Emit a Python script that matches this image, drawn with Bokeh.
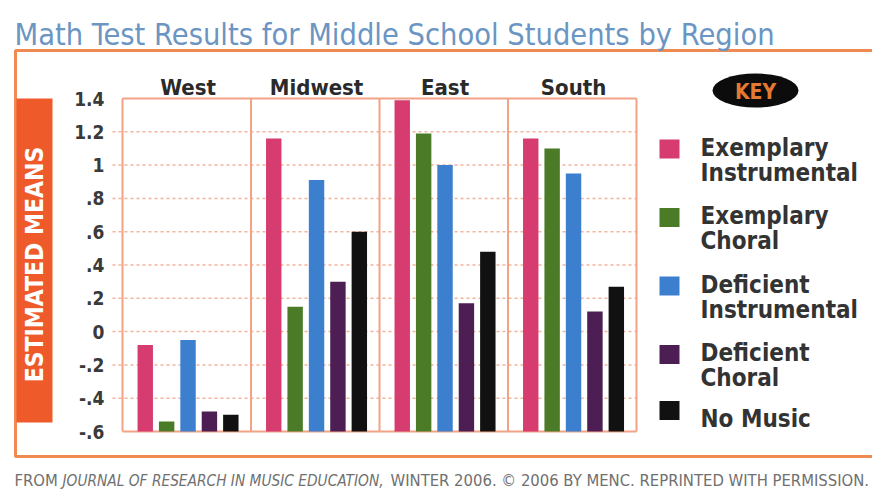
from bokeh.plotting import figure
from bokeh.models import Range1d
from bokeh.core.properties import value
from bokeh.embed import file_html
from bokeh.resources import INLINE

# ---------------- data ----------------
regions = ["West", "Midwest", "East", "South"]
series_names = ["Exemplary Instrumental", "Exemplary Choral",
                "Deficient Instrumental", "Deficient Choral", "No Music"]
exemplary_instrumental = [-0.08, 1.16, 1.39, 1.16]
exemplary_choral = [-0.54, 0.15, 1.19, 1.10]
deficient_instrumental = [-0.05, 0.91, 1.00, 0.95]
deficient_choral = [-0.48, 0.30, 0.17, 0.12]
no_music = [-0.50, 0.60, 0.48, 0.27]
y_ticks = [-0.6, -0.4, -0.2, 0.0, 0.2, 0.4, 0.6, 0.8, 1.0, 1.2, 1.4]
y_tick_labels = ["-.6", "-.4", "-.2", "0", ".2", ".4", ".6", ".8", "1", "1.2", "1.4"]
title_text = "Math Test Results for Middle School Students by Region"
y_title = "ESTIMATED MEANS"
key_text = "KEY"
footer_pieces = ["FROM", "JOURNAL OF RESEARCH IN MUSIC EDUCATION,",
                 "WINTER 2006.  \u00a9 2006 BY MENC.  REPRINTED WITH PERMISSION."]

series_values = [exemplary_instrumental, exemplary_choral,
                 deficient_instrumental, deficient_choral, no_music]
colors = ["#d63c6f", "#4b7b27", "#3c7fcf", "#4c1e53", "#111111"]

# ---------------- geometry helpers (page pixels -> data) ----------------
W, H = 872, 489
PANEL_LEFT = 122.0     # page x of left edge of first panel
PANEL_W = 128.5        # px per panel
Y_TOP_PX = 98.0        # page y of value 1.4
PX_PER_UNIT = 166.5
Y_MAX, Y_MIN = 1.4, -0.6


def dx(px):
    return (px - PANEL_LEFT) / PANEL_W


def dy(py):
    return Y_MAX - (py - Y_TOP_PX) / PX_PER_UNIT


p = figure(width=W, height=H, output_backend="svg", toolbar_location=None,
           x_range=Range1d(dx(0), dx(W)), y_range=Range1d(dy(H), dy(0)),
           x_axis_type=None, y_axis_type=None, min_border=0)
p.min_border_left = p.min_border_right = p.min_border_top = p.min_border_bottom = 0
p.outline_line_color = None
p.background_fill_color = "white"
p.border_fill_color = "white"
p.grid.visible = False

FONT = value("DejaVu Sans Condensed")
DARK = "#333333"

# outer orange frame
p.line(x=[dx(900), dx(15), dx(15), dx(900)], y=[dy(50), dy(50), dy(456), dy(456)],
       line_color="#ef8a52", line_width=3)

# title
p.text(x=[dx(14)], y=[dy(34)], text=[title_text], text_font=FONT,
       text_font_size="30.5px", text_color="#6b95c3", text_baseline="alphabetic",
       text_align="left")

# y-title box
p.quad(left=[dx(16)], right=[dx(52)], top=[dy(98)], bottom=[dy(422)],
       fill_color="#ef5a2b", line_color=None)
p.text(x=[dx(34)], y=[dy(264)], text=[y_title], angle=1.5707963, text_font=FONT,
       text_font_style="bold", text_font_size="24.5px", text_color="white",
       text_align="center", text_baseline="middle")

# grid lines (dashed) inside panels
inner = [t for t in y_ticks if Y_MIN < t < Y_MAX]
p.segment(x0=[dx(112)] * len(inner), x1=[len(regions)] * len(inner),
          y0=inner, y1=inner, line_color="#f3b39a", line_width=1.5, line_dash="3 3")

# panel borders
n = len(regions)
p.segment(x0=list(range(n + 1)), x1=list(range(n + 1)),
          y0=[Y_MIN] * (n + 1), y1=[Y_MAX] * (n + 1),
          line_color="#f2a386", line_width=2)
p.segment(x0=[0, 0], x1=[n, n], y0=[Y_MIN, Y_MAX], y1=[Y_MIN, Y_MAX],
          line_color="#f2a386", line_width=2)

# bars
SPACING = 0.1665
BAR_W = 0.12
for k, (vals, col) in enumerate(zip(series_values, colors)):
    xs = [i + 0.51 + (k - 2) * SPACING for i in range(n)]
    p.vbar(x=xs, top=vals, bottom=Y_MIN, width=BAR_W, fill_color=col, line_color=None)

# region labels
p.text(x=[i + 0.51 for i in range(n)], y=[dy(87)] * n, text=regions, text_font=FONT,
       text_font_style="bold", text_font_size="22px", text_color="#2a2a2a",
       text_align="center", text_baseline="alphabetic")

# y tick labels
p.text(x=[dx(104)] * len(y_ticks), y=y_ticks, text=y_tick_labels, text_font=FONT,
       text_font_style="bold", text_font_size="19px", text_color="#3a3a3a",
       text_align="right", text_baseline="middle")

# KEY badge
p.ellipse(x=[dx(755)], y=[dy(90)], width=86, height=34, width_units="screen",
          height_units="screen", fill_color="#0c0c0c", line_color=None)
p.text(x=[dx(755)], y=[dy(91)], text=[key_text], text_font=FONT,
       text_font_style="bold", text_font_size="21px", text_color="#e27a32",
       text_align="center", text_baseline="middle")

# legend
base1 = [147, 215.5, 284, 352.5]
LEG_SIZE = "24px"
for k, (name, col) in enumerate(zip(series_names, colors)):
    words = name.split(" ")
    if len(words) == 2 and k < 4:
        b = base1[k]
        sq = b + 1.5
        p.text(x=[dx(700), dx(700)], y=[dy(b), dy(b + 25)], text=words, text_font=FONT,
               text_font_style="bold", text_font_size=LEG_SIZE, text_color=DARK,
               text_align="left", text_baseline="alphabetic")
    else:
        sq = 410
        p.text(x=[dx(700)], y=[dy(418)], text=[name], text_font=FONT,
               text_font_style="bold", text_font_size=LEG_SIZE, text_color=DARK,
               text_align="left", text_baseline="alphabetic")
    p.rect(x=[dx(669)], y=[dy(sq)], width=20, height=19, width_units="screen",
           height_units="screen", fill_color=col, line_color=None)

# footer
foot_x = [14, 62, 390]
foot_style = ["normal", "italic", "normal"]
foot_size = ["16.5px", "15.3px", "16.5px"]
for txt, fx, st, fs in zip(footer_pieces, foot_x, foot_style, foot_size):
    p.text(x=[dx(fx)], y=[dy(480)], text=[txt], text_font=FONT,
           text_font_style=st, text_font_size=fs, text_color="#707070",
           text_align="left", text_baseline="alphabetic")

open("out.html", "w").write(file_html(p, INLINE))
